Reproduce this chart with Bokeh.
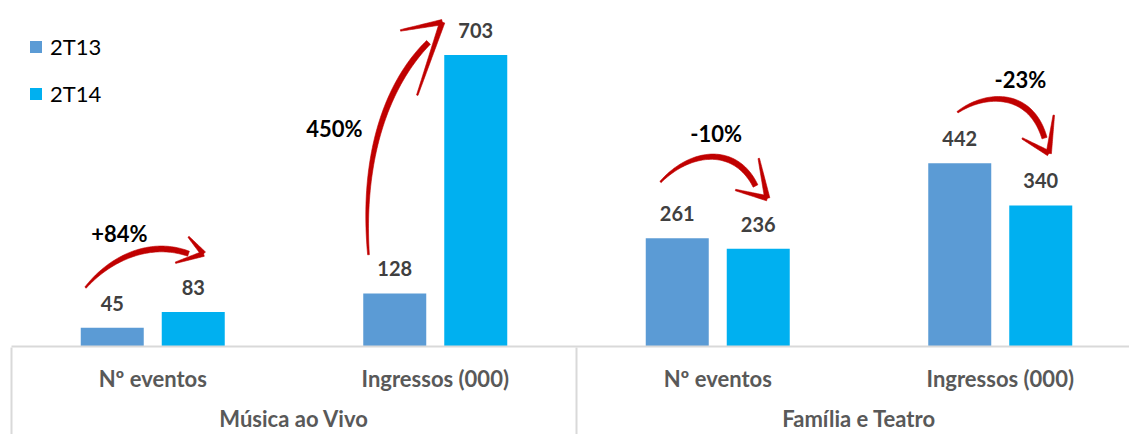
import numpy as np
from bokeh.plotting import figure
from bokeh.models import ColumnDataSource, Range1d, LinearAxis, FixedTicker, LabelSet
from bokeh.embed import file_html
from bokeh.resources import INLINE
from bokeh.core.properties import value

# ---------------- data ----------------
groups = ["Música ao Vivo", "Família e Teatro"]
subgroups = ["Nº eventos", "Ingressos (000)", "Nº eventos", "Ingressos (000)"]
series = ["2T13", "2T14"]
v_2t13 = [45, 128, 261, 442]
v_2t14 = [83, 703, 236, 340]
pct_labels = ["+84%", "450%", "-10%", "-23%"]

# ---------------- layout / style ----------------
W, H = 1129, 434
BORDER_L, BORDER_T = 11, 8
FRAME_W, FRAME_H = W - BORDER_L, 339
SLOT_PX = 282.5
X_END = FRAME_W / SLOT_PX
Y_END = 815
SX = FRAME_W / X_END
SY = FRAME_H / Y_END
BAR_OFF = 40.5 / SX
BAR_W = 63 / SX
C13, C14 = "#5B9BD5", "#00B0F0"
RED = "#C00000"
FONT = "Lato"
AX_FONT_SIZE = "22px"
STANDOFF1, STANDOFF2 = 18, 10
SEP_LEN = H - BORDER_T - FRAME_H

# percent label placement: (dx px from group centre, baseline px above axis)
PCT_POS = [(-33.25, 105), (-100.75, 210), (-1.5, 205), (20.25, 259)]
# arrows, image-pixel offsets (y down); S,C1 rel. to 2T13 bar top; rest rel. to 2T14 bar top
ARROWS = [
    dict(S=(-26.75, -40.3), C1=(-1.75, -70.3), C2=(-42.75, -72.5), E=(-4.75, -58.5),
         tip=(10.25, -58.5), armA=(-4.75, -75.5), armB=(-17.75, -49.5)),
    dict(S=(-26.25, -38.8), C1=(-34.25, -143.8), C2=(-85.25, 25.4), E=(-47.25, -12.6),
         tip=(-33.5, -32.9), armA=(-75.25, -24.6), armB=(-58.5, 40.4)),
    dict(S=(-16.75, -56.4), C1=(13.25, -88.4), C2=(-22.75, -103.8), E=(-2.75, -62.8),
         tip=(9, -50.5), armA=(0.5, -90.5), armB=(-22.75, -58.8)),
    dict(S=(-2.25, -51.1), C1=(25.75, -71.1), C2=(-10.25, -115.6), E=(3.75, -67.6),
         tip=(8.05, -52.3), armA=(13.05, -90.6), armB=(-18.55, -67.3)),
]

xs = [i + 0.5 for i in range(len(subgroups))]
x13 = [x - BAR_OFF for x in xs]
x14 = [x + BAR_OFF for x in xs]

p = figure(width=W, height=H,
           x_range=Range1d(0, X_END), y_range=Range1d(0, Y_END),
           output_backend="svg", toolbar_location=None, y_axis_location=None,
           min_border_left=BORDER_L, min_border_right=0, min_border_top=BORDER_T,
           min_border_bottom=0, outline_line_color=None)
p.grid.visible = False

src13 = ColumnDataSource(dict(x=x13, top=v_2t13, lab=[str(v) for v in v_2t13]))
src14 = ColumnDataSource(dict(x=x14, top=v_2t14, lab=[str(v) for v in v_2t14]))
p.vbar(x="x", top="top", width=BAR_W, bottom=0, source=src13, fill_color=C13,
       line_color=None, legend_label=series[0])
p.vbar(x="x", top="top", width=BAR_W, bottom=0, source=src14, fill_color=C14,
       line_color=None, legend_label=series[1])

for s in (src13, src14):
    p.add_layout(LabelSet(x="x", y="top", text="lab", source=s, text_align="center",
                          text_baseline="alphabetic", y_offset=17, text_font=value(FONT),
                          text_font_size=value("20px"), text_font_style=value("bold"),
                          text_color=value("#404040")))

# percent labels
pct_src = ColumnDataSource(dict(
    x=[xs[i] + PCT_POS[i][0] / SX for i in range(4)],
    y=[PCT_POS[i][1] / SY for i in range(4)],
    t=pct_labels))
p.add_layout(LabelSet(x="x", y="y", text="t", source=pct_src, text_align="center",
                      text_baseline="alphabetic", text_font=value(FONT),
                      text_font_size=value("22px"), text_font_style=value("bold"),
                      text_color=value("black")))

# arrows (tapered strokes)
def bez(P0, P1, P2, P3, n=60):
    t = np.linspace(0, 1, n)[:, None]
    P0, P1, P2, P3 = map(np.array, (P0, P1, P2, P3))
    return (1 - t) ** 3 * P0 + 3 * (1 - t) ** 2 * t * P1 + 3 * (1 - t) * t ** 2 * P2 + t ** 3 * P3

def stroke(pts, w):
    d = np.gradient(pts, axis=0)
    d /= np.linalg.norm(d, axis=1)[:, None]
    nrm = np.stack([-d[:, 1], d[:, 0]], axis=1)
    left = pts + nrm * (w[:, None] / 2)
    right = pts - nrm * (w[:, None] / 2)
    poly = np.vstack([left, right[::-1]])
    return list(poly[:, 0] / SX), list(poly[:, 1] / SY)

pxs, pys = [], []
for i, a in enumerate(ARROWS):
    A13 = np.array([x13[i] * SX, v_2t13[i] * SY])
    A14 = np.array([x14[i] * SX, v_2t14[i] * SY])
    r13 = lambda o: A13 + np.array([o[0], -o[1]])
    r14 = lambda o: A14 + np.array([o[0], -o[1]])
    pts = bez(r13(a["S"]), r13(a["C1"]), r14(a["C2"]), r14(a["E"]))
    t = np.linspace(0, 1, len(pts))
    w = 1.0 + 4.8 * np.sin(np.pi * (0.05 + 0.6 * t))
    X, Y = stroke(pts, w); pxs.append(X); pys.append(Y)
    tip = r14(a["tip"])
    for arm in ("armA", "armB"):
        st = r14(a[arm])
        tt = np.linspace(0, 1, 20)[:, None]
        apts = st + (tip - st) * tt
        aw = 1.5 + 3.8 * tt[:, 0]
        X, Y = stroke(apts, aw); pxs.append(X); pys.append(Y)
p.patches(pxs, pys, fill_color=RED, line_color=RED, line_width=0.6)

# axes
def style(ax, standoff):
    ax.major_tick_in = 0
    ax.major_tick_out = 0
    ax.minor_tick_in = 0
    ax.minor_tick_out = 0
    ax.major_label_standoff = standoff
    ax.major_label_text_font = FONT
    ax.major_label_text_font_size = AX_FONT_SIZE
    ax.major_label_text_font_style = "bold"
    ax.major_label_text_color = "#595959"

ax1 = p.xaxis[0]
ax1.ticker = FixedTicker(ticks=xs, minor_ticks=[])
ax1.major_label_overrides = {x: s for x, s in zip(xs, subgroups)}
ax1.axis_line_color = "#D9D9D9"
ax1.axis_line_width = 2
style(ax1, STANDOFF1)

ax2 = LinearAxis(ticker=FixedTicker(ticks=[1, 3], minor_ticks=[]),
                 major_label_overrides={1: groups[0], 3: groups[1]}, axis_line_alpha=0)
style(ax2, STANDOFF2)
p.add_layout(ax2, "below")

ax3 = LinearAxis(ticker=FixedTicker(ticks=[], minor_ticks=[0, 2]), axis_line_alpha=0)
style(ax3, 0)
ax3.minor_tick_in = SEP_LEN
ax3.minor_tick_line_color = "#D9D9D9"
ax3.minor_tick_line_width = 2
p.add_layout(ax3, "below")

lg = p.legend[0]
lg.location = (17, 239)
lg.glyph_width = 15
lg.glyph_height = 15
lg.label_standoff = 7
lg.spacing = 20
lg.padding = 0
lg.margin = 0
lg.border_line_alpha = 0
lg.background_fill_alpha = 0
lg.label_text_font = FONT
lg.label_text_font_size = "22px"
lg.label_text_color = "black"

open("out.html", "w").write(file_html(p, INLINE))
